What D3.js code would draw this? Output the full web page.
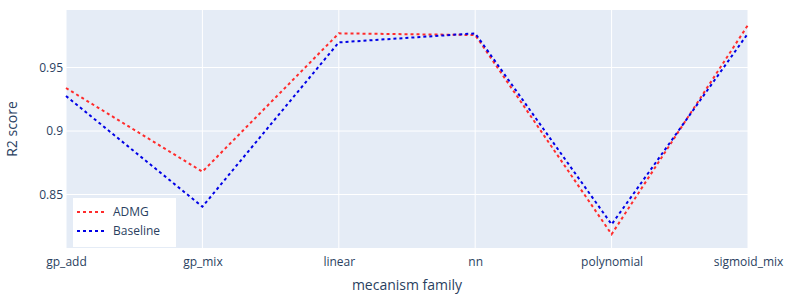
<!DOCTYPE html>
<html><head><meta charset="utf-8">
<script src="https://cdn.jsdelivr.net/npm/d3@7"></script>
<style>body{margin:0;background:#fff}svg{display:block}text{font-family:"Open Sans",sans-serif;fill:#2a3f5f}</style>
</head><body><div id="c"></div>
<script>
const categories = ["gp_add","gp_mix","linear","nn","polynomial","sigmoid_mix"];
const admg = [0.9339, 0.868, 0.9769, 0.9756, 0.8187, 0.9835];
const baseline = [0.9276, 0.8404, 0.9698, 0.9769, 0.8265, 0.9769];
const yTicks = [0.85, 0.9, 0.95];
const seriesNames = ["ADMG","Baseline"];
const seriesColors = ["#ff2b2b","#0000e6"];

const W=800,H=300, L=66, R=748, T=10, B=248;
const svg=d3.select("#c").append("svg").attr("width",W).attr("height",H);
const x=d3.scalePoint().domain(categories).range([L,R]);
const y=d3.scaleLinear().domain([0.8079,0.9953]).range([B,T]);

svg.append("rect").attr("x",L).attr("y",T).attr("width",R-L).attr("height",B-T).attr("fill","#E5ECF6");
// gridlines
svg.append("g").selectAll("line").data(categories).join("line")
  .attr("x1",d=>x(d)).attr("x2",d=>x(d)).attr("y1",T).attr("y2",B)
  .attr("stroke","#fff").attr("stroke-width",1);
svg.append("g").selectAll("line").data(yTicks).join("line")
  .attr("x1",L).attr("x2",R).attr("y1",d=>y(d)).attr("y2",d=>y(d))
  .attr("stroke","#fff").attr("stroke-width",1);

// axes
const xa=svg.append("g").attr("transform",`translate(0,${B})`).call(d3.axisBottom(x).tickSize(0).tickPadding(9));
xa.select(".domain").remove();
xa.selectAll("text").attr("font-size",12).style("fill","#2a3f5f").attr("font-family","Open Sans");
const ya=svg.append("g").attr("transform",`translate(${L},0)`).call(d3.axisLeft(y).tickValues(yTicks).tickFormat(d3.format("")).tickSize(0).tickPadding(3));
ya.select(".domain").remove();
ya.selectAll("text").attr("font-size",12).style("fill","#2a3f5f").attr("font-family","Open Sans");

// lines
const line=d3.line().x((d,i)=>x(categories[i])).y(d=>y(d));
[admg,baseline].forEach((s,k)=>{
  svg.append("path").datum(s).attr("d",line).attr("fill","none")
    .attr("stroke",seriesColors[k]).attr("stroke-width",2).attr("stroke-dasharray","3,3");
});

// titles
svg.append("text").attr("x",(L+R)/2).attr("y",290).attr("text-anchor","middle").attr("font-size",14).text("mecanism family");
svg.append("text").attr("transform",`translate(17,${(T+B)/2}) rotate(-90)`).attr("text-anchor","middle").attr("font-size",14).text("R2 score");

// legend
const lg=svg.append("g");
lg.append("rect").attr("x",73).attr("y",198).attr("width",103).attr("height",49).attr("fill","#fff");
seriesNames.forEach((n,k)=>{
  const yy=212+k*19;
  lg.append("line").attr("x1",77).attr("x2",106).attr("y1",yy).attr("y2",yy)
    .attr("stroke",seriesColors[k]).attr("stroke-width",2).attr("stroke-dasharray","3,3");
  lg.append("text").attr("x",113).attr("y",yy).attr("dy","0.35em").attr("font-size",12).text(n);
});
</script></body></html>
